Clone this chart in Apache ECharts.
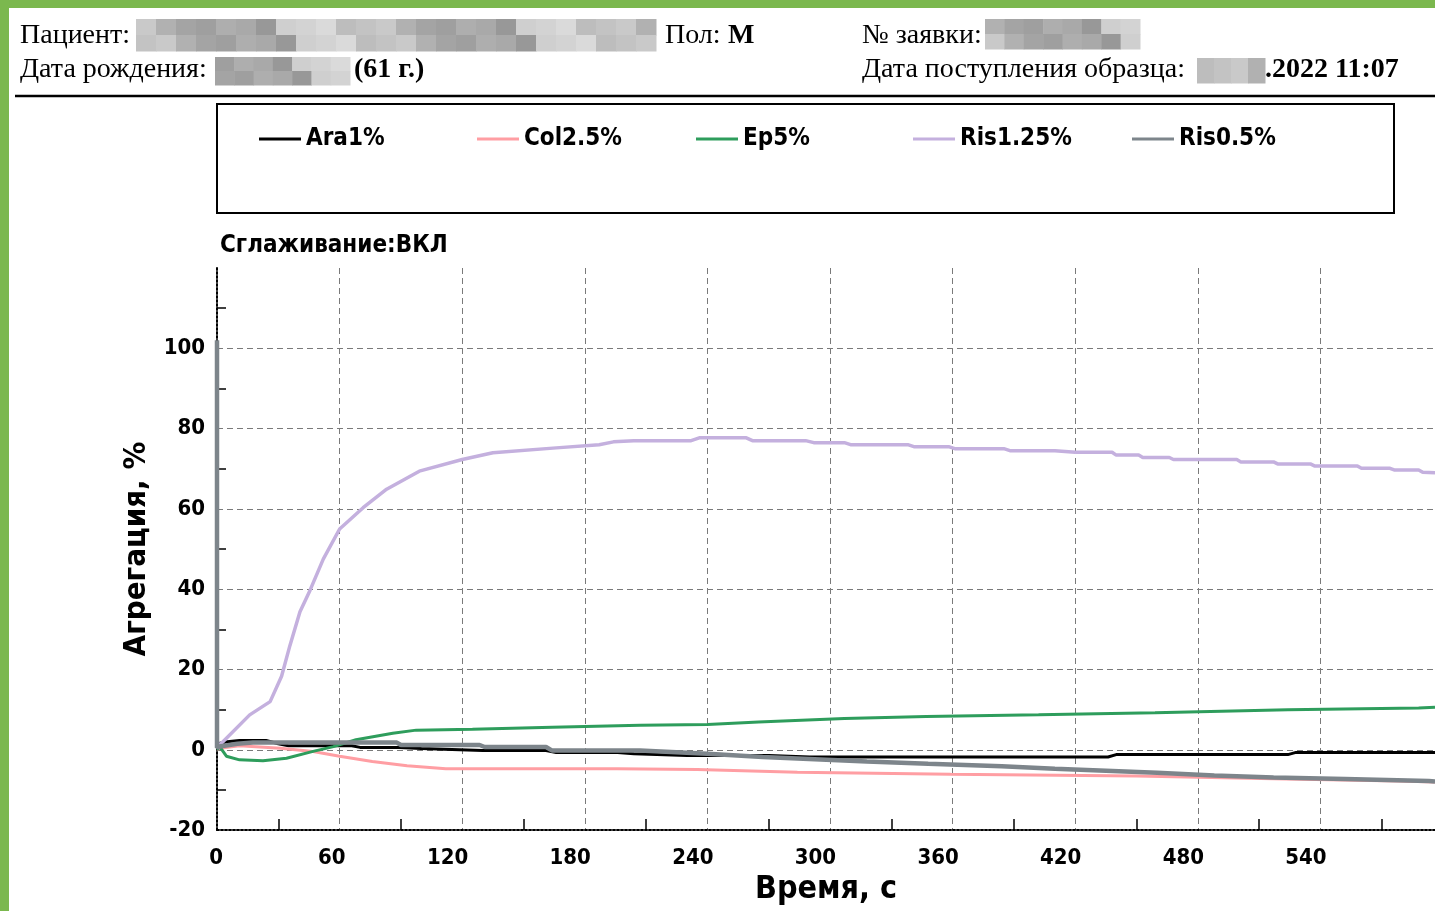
<!DOCTYPE html>
<html>
<head>
<meta charset="utf-8">
<script src="https://cdn.jsdelivr.net/npm/echarts@6/dist/echarts.min.js"></script>
<style>
html,body{margin:0;padding:0;background:#fff;}
#chart{width:1435px;height:911px;}
</style>
</head>
<body>
<div id="chart"></div>
<script>
// ---- data (time s, aggregation %) ----
const seriesNames = ['Ara1%', 'Col2.5%', 'Ep5%', 'Ris1.25%', 'Ris0.5%'];
const seriesColors = ['#000000', '#ff9ea3', '#2e9d5c', '#c4b0de', '#7d858b'];
const seriesWidths = [3, 3, 3, 3.5, 4.5];

const ara1 = [[0,0.5],[1,1.6],[5,2],[11,2.3],[24,2.3],[30,1.5],[35,1],[66,1],[70,0.6],[89,0.6],[100,0.3],[130,-0.2],[161,-0.2],[166,-0.7],[196,-0.7],[204,-1],[230,-1.4],[270,-1.4],[290,-1.8],[436,-1.8],[440,-1.2],[524,-1.2],[528,-0.65],[596,-0.65]];
const col25 = [[0,0],[1.3,0.4],[11,1],[31,0.4],[47,-0.4],[60,-1.6],[76,-2.9],[93,-4],[112,-4.7],[196,-4.7],[235,-4.9],[284,-5.6],[359,-6.1],[450,-6.5],[517,-7.2],[578,-7.8],[596,-8]];
const ep5 = [[0,0],[1.3,0.8],[4.6,-1.6],[11,-2.5],[22.5,-2.7],[34,-2.1],[47,-0.4],[57,0.8],[68,2.5],[86,4.1],[97.5,4.9],[125,5.1],[164,5.6],[207,6.1],[240,6.3],[265,6.9],[307,7.8],[347,8.3],[402,8.7],[459,9.2],[524,10],[588,10.4],[596,10.6]];
const ris125 = [[0,100],[0,1],[2.3,1.7],[16,8.7],[26,12],[31.6,18.3],[35.7,26],[40.6,34.4],[45.5,39.7],[52,47.5],[60,55],[71.5,60.3],[83,64.9],[99,69.4],[120,72.3],[135,74],[166,75.2],[187,76],[194,76.7],[204,77],[232,77],[236,77.7],[259,77.7],[262,77],[288,77],[292,76.5],[307,76.5],[310,76],[338,76],[341,75.5],[358,75.5],[361,75],[385,75],[388,74.5],[410,74.5],[420,74.1],[438,74.1],[440,73.4],[451,73.4],[453,72.8],[466,72.8],[468,72.3],[499,72.3],[501,71.7],[517,71.7],[519,71.2],[535,71.2],[537,70.7],[558,70.7],[560,70.1],[574,70.1],[576,69.7],[588,69.7],[590,69.1],[596,69]];
const ris05 = [[0,102],[0,0.5],[1.3,0.8],[10,1.5],[17.6,1.8],[88,1.8],[90,1.2],[128.5,1.2],[131,0.7],[161,0.7],[164,-0.2],[207,-0.2],[240,-1],[267,-1.8],[318,-2.9],[348,-3.5],[384,-4.1],[410,-4.7],[435,-5.2],[460,-5.7],[488,-6.4],[517,-6.9],[552,-7.3],[593,-7.8],[596,-7.9]];
const seriesData = [ara1, col25, ep5, ris125, ris05];

const xMin = 0, xMax = 596, xInterval = 60;
const yMin = -20, yMax = 120, yInterval = 20;

const headerTexts = {
  patient: 'Пациент:', sex: 'Пол:', sexValue: 'М', order: '№ заявки:',
  birth: 'Дата рождения:', age: '(61 г.)', received: 'Дата поступления образца:', receivedValue: '.2022 11:07'
};
const smoothingText = 'Сглаживание:ВКЛ';
const yName = 'Агрегация, %';
const xName = 'Время, с';

// ---- rendering ----
const NARROW = '"Liberation Sans Narrow", "DejaVu Sans Condensed", "Arial Narrow", sans-serif';
const SERIF = '"Liberation Serif", "Times New Roman", serif';
const chart = echarts.init(document.getElementById('chart'), null, {renderer: 'canvas'});

// redaction mosaic helper (decoration only)
const grays = ['#c9c9c9','#a9a9a9','#bdbdbd','#9f9f9f','#d3d3d3','#b1b1b1','#989898','#c3c3c3','#aeaeae','#dadada','#a4a4a4','#cfcfcf'];
function mosaic(x, y, w, h, cols, rows, seed) {
  const els = [];
  const cw = w / cols, ch = h / rows;
  for (let r = 0; r < rows; r++) for (let c = 0; c < cols; c++) {
    els.push({type:'rect', shape:{x:x + c*cw, y:y + r*ch, width:cw + 0.5, height:ch + 0.5},
      style:{fill: grays[(c*5 + r*7 + seed) % grays.length]}, silent:true});
  }
  return els;
}

function hText(x, y, text, bold) {
  return {type:'text', x:x, y:y, style:{text:text, font:(bold ? 'bold ' : '') + '28px ' + SERIF, fill:'#000', textVerticalAlign:'middle'}};
}

const graphics = [
  {type:'rect', shape:{x:0, y:0, width:1435, height:8}, style:{fill:'#7bb84e'}},
  {type:'rect', shape:{x:0, y:0, width:9, height:911}, style:{fill:'#7bb84e'}},
  {type:'line', shape:{x1:15, y1:96, x2:1435, y2:96}, style:{stroke:'#000', lineWidth:2.5}},
  {type:'rect', shape:{x:217, y:104, width:1177, height:109}, style:{fill:'none', stroke:'#000', lineWidth:2}},
  hText(20, 36, headerTexts.patient, false),
  hText(665, 36, headerTexts.sex, false),
  hText(728, 36, headerTexts.sexValue, true),
  hText(862, 36, headerTexts.order, false),
  hText(20, 70, headerTexts.birth, false),
  hText(354, 70, headerTexts.age, true),
  hText(862, 70, headerTexts.received, false),
  hText(1265, 70, headerTexts.receivedValue, true)
].concat(
  mosaic(136, 19, 520, 32, 26, 2, 0),
  mosaic(215, 57, 135, 28, 7, 2, 3),
  mosaic(985, 19, 155, 30, 8, 2, 5),
  mosaic(1197, 58, 68, 25, 4, 1, 2)
);

const legendLefts = [254, 472, 691, 908, 1127];

const option = {
  animation: false,
  backgroundColor: '#ffffff',
  title: {
    text: smoothingText, left: 215, top: 229,
    textStyle: {fontFamily: NARROW, fontWeight: 'bold', fontSize: 24, color: '#000'}
  },
  legend: seriesNames.map((name, i) => ({
    data: [name],
    left: legendLefts[i], top: 122,
    icon: 'rect', itemWidth: 42, itemHeight: 3,
    textStyle: {fontFamily: NARROW, fontWeight: 'bold', fontSize: 24, color: '#000'}
  })),
  grid: {left: 217, top: 268, right: 0, bottom: 78, containLabel: false},
  xAxis: {
    type: 'value', min: xMin, max: xMax, interval: xInterval,
    name: xName, nameLocation: 'middle', nameGap: 40,
    nameTextStyle: {fontFamily: NARROW, fontWeight: 'bold', fontSize: 32, color: '#000'},
    axisLine: {show: true, onZero: false, lineStyle: {color: '#000', type: 'dotted', width: 2}},
    axisTick: {show: false, inside: true},
    minorTick: {show: true, splitNumber: 2, length: 11, lineStyle: {color: '#000', width: 1.5}},
    axisLabel: {show: true, showMaxLabel: false, align: 'right', margin: 17, padding: [0, -6, 0, 0],
      fontFamily: NARROW, fontWeight: 'bold', fontSize: 22, color: '#000'},
    splitLine: {show: true, showMinLine: false, showMaxLine: false, lineStyle: {color: '#7a7a7a', type: [6, 4], width: 1}},
    minorSplitLine: {show: false}
  },
  yAxis: {
    type: 'value', min: yMin, max: yMax, interval: yInterval,
    name: yName, nameLocation: 'middle', nameGap: 56, nameRotate: 90,
    nameTextStyle: {fontFamily: NARROW, fontWeight: 'bold', fontSize: 31, color: '#000'},
    axisLine: {show: true, onZero: false, lineStyle: {color: '#000', type: 'dotted', width: 2}},
    axisTick: {show: false, inside: true},
    minorTick: {show: true, splitNumber: 2, length: 9, lineStyle: {color: '#000', width: 1.5}},
    axisLabel: {show: true, showMaxLabel: false, margin: 12,
      fontFamily: NARROW, fontWeight: 'bold', fontSize: 22, color: '#000'},
    splitLine: {show: true, showMinLine: false, showMaxLine: false, lineStyle: {color: '#7a7a7a', type: [6, 4], width: 1}},
    minorSplitLine: {show: false}
  },
  series: seriesNames.map((name, i) => ({
    name: name, type: 'line', data: seriesData[i],
    showSymbol: false, symbol: 'none', smooth: false,
    clip: true,
    itemStyle: {color: seriesColors[i]},
    lineStyle: {color: seriesColors[i], width: seriesWidths[i]},
    z: 2 + i
  })),
  graphic: graphics
};
chart.setOption(option);
</script>
</body>
</html>
